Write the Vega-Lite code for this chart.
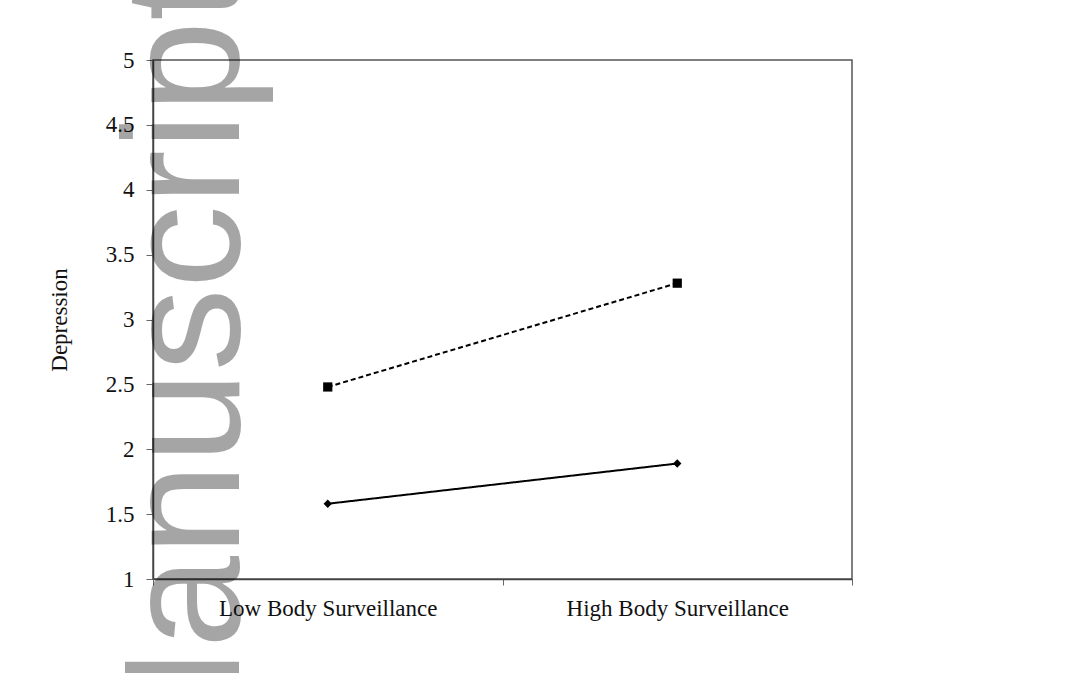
{
  "$schema": "https://vega.github.io/schema/vega-lite/v6.json",
  "width": 699,
  "height": 519,
  "autosize": {"type": "none"},
  "padding": {"left": 153, "top": 60, "right": 215, "bottom": 94},
  "background": "white",
  "config": {
    "view": {"stroke": "#555555", "strokeWidth": 1.5},
    "font": "Liberation Serif",
    "axis": {"grid": false, "domainColor": "#444444", "domainWidth": 1.5, "tickColor": "#666666", "labelColor": "#111111", "titleColor": "#111111", "labelFont": "Liberation Serif", "titleFont": "Liberation Serif", "titleFontWeight": "normal", "labelLimit": 0}
  },
  "data": {
    "values": [
      {"surveillance": "Low Body Surveillance", "group": "A", "depression": 1.58},
      {"surveillance": "High Body Surveillance", "group": "A", "depression": 1.89},
      {"surveillance": "Low Body Surveillance", "group": "B", "depression": 2.48},
      {"surveillance": "High Body Surveillance", "group": "B", "depression": 3.28}
    ]
  },
  "layer": [
    {
      "mark": {"type": "line", "color": "black", "strokeWidth": 2},
      "encoding": {
        "x": {"field": "surveillance", "type": "nominal", "bandPosition": 0.5,
          "scale": {"type": "band", "paddingInner": 0, "paddingOuter": 0, "domain": ["Low Body Surveillance", "High Body Surveillance"]},
          "axis": {"title": null, "labelAngle": 0, "tickBand": "extent", "tickSize": 6, "labelPadding": 12, "labelFontSize": 23, "labelLimit": 0}},
        "y": {"field": "depression", "type": "quantitative",
          "scale": {"domain": [1, 5], "nice": false, "zero": false},
          "axis": {"title": "Depression", "values": [1, 1.5, 2, 2.5, 3, 3.5, 4, 4.5, 5], "format": "~g", "tickSize": 7, "labelPadding": 12, "labelFontSize": 23, "titleFontSize": 23, "titlePadding": 34}},
        "strokeDash": {"field": "group", "type": "nominal", "legend": null,
          "scale": {"domain": ["A", "B"], "range": [[1, 0], [5, 3]]}}
      }
    },
    {
      "mark": {"type": "point", "filled": true, "color": "black", "opacity": 1},
      "encoding": {
        "x": {"field": "surveillance", "type": "nominal", "bandPosition": 0.5},
        "y": {"field": "depression", "type": "quantitative"},
        "shape": {"field": "group", "type": "nominal", "legend": null,
          "scale": {"domain": ["A", "B"], "range": ["diamond", "square"]}},
        "size": {"field": "group", "type": "nominal", "legend": null,
          "scale": {"domain": ["A", "B"], "range": [70, 85]}}
      }
    },
    {
      "data": {"values": [{"label": "Manuscript", "pos": "Low Body Surveillance", "level": 2.53}]},
      "mark": {"type": "text", "angle": 270, "align": "center", "baseline": "alphabetic", "font": "Liberation Sans", "fontSize": 166, "color": "black", "opacity": 0.35},
      "encoding": {
        "x": {"field": "pos", "type": "nominal", "bandPosition": 0.246},
        "y": {"field": "level", "type": "quantitative"},
        "text": {"field": "label"}
      }
    }
  ]
}
